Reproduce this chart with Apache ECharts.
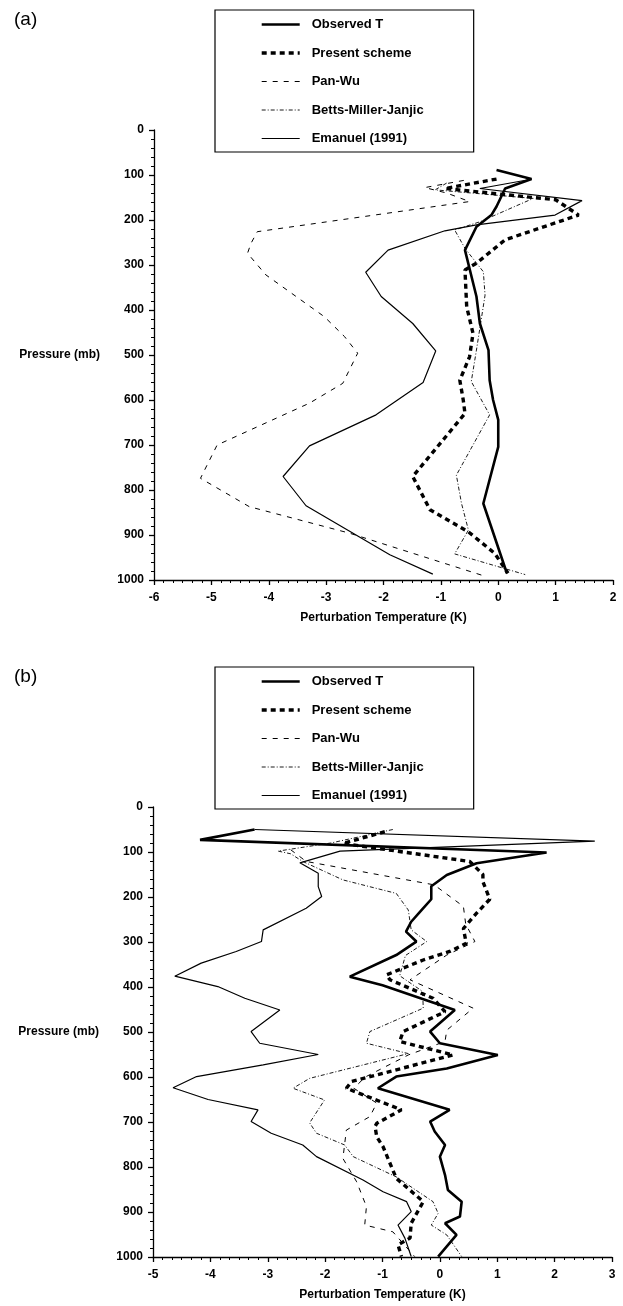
<!DOCTYPE html>
<html>
<head>
<meta charset="utf-8">
<script src="https://cdn.jsdelivr.net/npm/echarts@6/dist/echarts.min.js"></script>
<style>
  html, body { margin: 0; padding: 0; background: #fff; }
  #chart { width: 623px; height: 1306px; }
</style>
</head>
<body>
<div id="chart"></div>
<script>
// Temperature perturbation profiles (K) against pressure (mb)
var seriesNames = ['Observed T', 'Present scheme', 'Pan-Wu', 'Betts-Miller-Janjic', 'Emanuel (1991)'];
var xTicksA = { min: -6, max: 2 };
var xTicksB = { min: -5, max: 3 };

// ---- panel (a) ----
var obsA_T = [-0.03, 0.58, 0.12, -0.03, -0.12, -0.38, -0.58, -0.38, -0.32, -0.17, -0.15, -0.09, 0.0, 0.0, -0.26, 0.15];
var obsA_P = [89, 109, 130, 170, 189, 215, 267, 370, 430, 489, 556, 600, 644, 704, 830, 985];

var presentA_T = [-0.03, -0.93, 1.0, 1.40, 0.12, -0.38, -0.58, -0.55, -0.44, -0.5, -0.67, -0.61, -0.58, -1.49, -1.19, -0.52, -0.06, 0.17];
var presentA_P = [109, 130, 155, 189, 244, 296, 311, 393, 452, 504, 556, 600, 630, 770, 844, 893, 941, 985];

var panWuA_T = [-0.6, -1.28, -0.9, -0.5, -4.2, -4.31, -4.37, -4.05, -3.03, -2.68, -2.45, -2.71, -3.29, -4.9, -5.19, -4.34, -2.59, -0.27];
var panWuA_P = [112, 128, 140, 159, 226, 252, 274, 322, 415, 459, 496, 563, 607, 700, 774, 837, 896, 990];

var bmjA_T = [-0.9, -1.1, 0.61, -0.32, -0.76, -0.58, -0.26, -0.23, -0.38, -0.47, -0.15, -0.73, -0.64, -0.52, -0.76, 0.47];
var bmjA_P = [118, 133, 152, 204, 222, 263, 315, 367, 489, 559, 633, 767, 830, 889, 942, 988];

var emanuelA_T = [0.55, -0.32, 1.46, 0.99, -0.38, -0.93, -1.92, -2.31, -2.04, -1.49, -1.09, -1.31, -2.13, -3.29, -3.75, -3.35, -1.89, -1.14];
var emanuelA_P = [110, 130, 157, 189, 211, 224, 267, 316, 370, 430, 491, 561, 633, 702, 770, 835, 944, 987];

// ---- panel (b) ----
var obsB_T = [-3.23, -4.18, 1.86, 0.64, 0.12, -0.15, -0.15, -0.32, -0.5, -0.59, -0.41, -0.76, -1.57, -1.0, 0.26, -0.17, 0.0, 1.01, 0.12, -0.76, -1.08, 0.17, -0.17, -0.09, 0.09, 0.0, 0.09, 0.14, 0.38, 0.35, 0.09, 0.29, -0.03];
var obsB_P = [50, 73, 101, 125, 151, 176, 205, 229, 255, 277, 299, 329, 377, 396, 451, 499, 525, 551, 581, 599, 625, 673, 699, 721, 751, 777, 818, 851, 877, 910, 925, 951, 999];

var presentB_T = [-0.96, -1.69, 0.52, 0.75, 0.75, 0.87, 0.64, 0.41, 0.46, 0.17, -0.29, -0.93, -0.87, -0.12, 0.09, -0.64, -0.70, 0.23, -1.54, -1.63, -0.67, -1.1, -1.13, -1.1, -0.99, -0.76, -0.29, -0.5, -0.52, -0.73, -0.67];
var presentB_P = [55, 81, 121, 150, 166, 205, 236, 270, 303, 321, 340, 373, 384, 425, 455, 499, 521, 551, 610, 625, 673, 703, 710, 733, 755, 825, 877, 925, 958, 973, 999];

var panWuB_T = [-2.6, -2.33, -0.1, 0.41, 0.45, 0.61, 0.12, -0.52, 0.58, 0.12, 0.09, -0.55, -1.3, -1.5, -1.1, -1.22, -1.63, -1.69, -1.45, -1.28, -1.31, -0.82, -0.44];
var panWuB_P = [95, 121, 173, 221, 260, 299, 329, 384, 447, 496, 521, 551, 600, 625, 658, 688, 718, 781, 833, 888, 929, 944, 999];

var bmjB_T = [-0.82, -1.9, -2.82, -2.6, -2.39, -1.69, -0.76, -0.55, -0.5, -0.23, -0.6, -0.7, -0.3, -0.29, -1.22, -1.28, -0.55, -2.27, -2.56, -2.01, -2.27, -2.15, -1.66, -1.51, -0.76, -0.12, -0.03, -0.15, 0.12, 0.38];
var bmjB_P = [50, 80, 98, 104, 121, 162, 192, 229, 273, 299, 330, 375, 410, 447, 499, 525, 548, 603, 625, 651, 702, 725, 751, 777, 822, 877, 903, 929, 951, 999];

var emanuelB_T = [-3.23, 2.70, -1.74, -2.44, -2.12, -2.12, -2.06, -2.33, -3.08, -3.11, -3.55, -4.16, -4.62, -3.87, -3.40, -2.79, -3.29, -3.14, -2.12, -3.08, -4.24, -4.65, -4.04, -3.17, -3.29, -2.94, -2.39, -2.15, -1.34, -0.99, -0.58, -0.5, -0.73, -0.61, -0.5];
var emanuelB_P = [50, 76, 98, 124, 147, 177, 199, 225, 273, 299, 321, 347, 376, 399, 425, 451, 499, 525, 550, 573, 599, 624, 650, 673, 699, 725, 751, 777, 829, 855, 877, 899, 929, 958, 999];

var FONT = "'Liberation Sans', Arial, Helvetica, sans-serif";

function pairs(t, p) {
  var out = [];
  for (var i = 0; i < t.length; i++) out.push([t[i], p[i]]);
  return out;
}

// line style per scheme
var styles = {
  'Observed T':          { color: '#000', width: 2.6, type: 'solid' },
  'Present scheme':      { color: '#000', width: 3.4, type: [5, 4] },
  'Pan-Wu':              { color: '#000', width: 1.0, type: [5, 6] },
  'Betts-Miller-Janjic': { color: '#000', width: 0.9, type: [4, 2, 1, 2] },
  'Emanuel (1991)':      { color: '#000', width: 1.2, type: 'solid' }
};

function makeSeries(name, t, p, idx) {
  return {
    name: name, type: 'line', xAxisIndex: idx, yAxisIndex: idx,
    data: pairs(t, p), symbol: 'none', showSymbol: false,
    itemStyle: { color: '#000' },
    lineStyle: styles[name], silent: true, animation: false,
    clip: false
  };
}

var axisLineStyle = { color: '#000', width: 1.3 };
var labelStyle = { color: '#000', fontFamily: FONT, fontWeight: 'bold', fontSize: 12 };

function xAxis(idx, range) {
  return {
    gridIndex: idx, type: 'value', min: range.min, max: range.max, interval: 1,
    axisLine: { show: true, onZero: false, lineStyle: axisLineStyle },
    axisTick: { show: true, length: 5, lineStyle: axisLineStyle },
    minorTick: { show: true, splitNumber: 6, length: 3, lineStyle: { color: '#000', width: 1 } },
    splitLine: { show: false },
    axisLabel: Object.assign({ margin: 12, formatter: function (v) { return String(v); } }, labelStyle),
    name: 'Perturbation Temperature (K)', nameLocation: 'middle', nameGap: 32,
    nameTextStyle: labelStyle
  };
}

function yAxis(idx) {
  return {
    gridIndex: idx, type: 'value', inverse: true, min: 0, max: 1000, interval: 100,
    axisLine: { show: true, onZero: false, lineStyle: axisLineStyle },
    axisTick: { show: true, length: 5, lineStyle: axisLineStyle },
    minorTick: { show: true, splitNumber: 5, length: 3, lineStyle: { color: '#000', width: 1 } },
    splitLine: { show: false },
    axisLabel: Object.assign({ margin: 10, formatter: function (v) { return String(v); } }, labelStyle),
    name: 'Pressure (mb)', nameLocation: 'middle', nameRotate: 0, nameGap: 54,
    nameTextStyle: labelStyle
  };
}

function legend(top) {
  return {
    data: seriesNames, orient: 'vertical', left: 215, top: top,
    itemWidth: 38, itemHeight: 14, itemGap: 15.5,
    padding: [8, 50, 7, 45],
    borderColor: '#000', borderWidth: 1.2, backgroundColor: '#fff',
    selectedMode: false, z: 10,
    itemStyle: { opacity: 0 },
    lineStyle: { width: 'inherit', type: 'inherit', color: '#000' },
    textStyle: { color: '#000', fontFamily: FONT, fontWeight: 'bold', fontSize: 13, padding: [0, 0, 0, 7] }
  };
}

var series = [];
series.push(makeSeries('Observed T', obsA_T, obsA_P, 0));
series.push(makeSeries('Present scheme', presentA_T, presentA_P, 0));
series.push(makeSeries('Pan-Wu', panWuA_T, panWuA_P, 0));
series.push(makeSeries('Betts-Miller-Janjic', bmjA_T, bmjA_P, 0));
series.push(makeSeries('Emanuel (1991)', emanuelA_T, emanuelA_P, 0));
series.push(makeSeries('Observed T', obsB_T, obsB_P, 1));
series.push(makeSeries('Present scheme', presentB_T, presentB_P, 1));
series.push(makeSeries('Pan-Wu', panWuB_T, panWuB_P, 1));
series.push(makeSeries('Betts-Miller-Janjic', bmjB_T, bmjB_P, 1));
series.push(makeSeries('Emanuel (1991)', emanuelB_T, emanuelB_P, 1));

var chart = echarts.init(document.getElementById('chart'), null, { renderer: 'canvas' });
chart.setOption({
  backgroundColor: '#fff',
  animation: false,
  textStyle: { fontFamily: FONT },
  grid: [
    { left: 154, right: 10, top: 130, height: 450 },
    { left: 153, right: 11, top: 807, height: 450 }
  ],
  xAxis: [xAxis(0, xTicksA), xAxis(1, xTicksB)],
  yAxis: [yAxis(0), yAxis(1)],
  legend: [legend(10), legend(667)],
  graphic: [
    { type: 'text', left: 14, top: 10, style: { text: '(a)', fontFamily: FONT, fontSize: 19, fill: '#000' } },
    { type: 'text', left: 14, top: 667, style: { text: '(b)', fontFamily: FONT, fontSize: 19, fill: '#000' } }
  ],
  series: series
});
</script>
</body>
</html>
